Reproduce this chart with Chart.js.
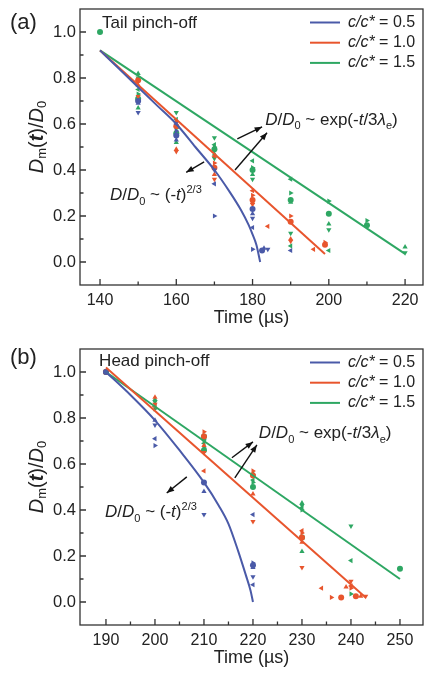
<!DOCTYPE html>
<html>
<head>
    <title>Pinch-off diameter vs time</title>
    <script src="https://cdn.jsdelivr.net/npm/chart.js"></script>
    <style>
        body {
            margin: 0;
            background: #ffffff;
        }
        canvas {
            display: block;
        }
    </style>
</head>
<body>
<canvas id="chartA" width="424" height="330"></canvas>
<canvas id="chartB" width="424" height="343"></canvas>

<script>
    // ---- data ----
    const yTicks = [0, 0.2, 0.4, 0.6, 0.8, 1.0];
    const yMinor = [0.1, 0.3, 0.5, 0.7, 0.9];

    // panel (a) tail pinch-off
    const aTicksX = [140, 160, 180, 200, 220];
    const aMinorX = [150, 170, 190, 210];

    const aFit05T = [140, 145, 150, 155, 160, 165, 170, 174, 177, 179, 180, 181, 182];
    const aFit05D = [0.92, 0.84, 0.76, 0.68, 0.60, 0.50, 0.40, 0.305, 0.225, 0.16, 0.12, 0.075, 0.0];
    const aFit10T = [140, 199];
    const aFit10D = [0.92, 0.035];
    const aFit15T = [140, 220];
    const aFit15D = [0.92, 0.035];

    const aBlueT = [150, 150, 150, 160, 160, 160, 160, 170, 170, 170, 180, 180, 180, 180, 180, 182.5, 183, 184, 190];
    const aBlueD = [0.70, 0.69, 0.65, 0.60, 0.57, 0.55, 0.53, 0.40, 0.34, 0.20, 0.23, 0.21, 0.19, 0.15, 0.055, 0.05, 0.06, 0.055, 0.05];
    const aRedT = [150, 150, 150, 150, 160, 160, 160, 160, 170, 170, 170, 170, 170, 180, 180, 180, 180, 180, 184, 190, 190, 190, 190, 196, 199, 199];
    const aRedD = [0.79, 0.77, 0.72, 0.70, 0.61, 0.59, 0.49, 0.48, 0.46, 0.43, 0.41, 0.38, 0.36, 0.31, 0.29, 0.27, 0.26, 0.25, 0.155, 0.20, 0.175, 0.10, 0.09, 0.055, 0.085, 0.075];
    const aGreenT = [140, 150, 150, 150, 150, 150, 150, 160, 160, 160, 160, 160, 170, 170, 170, 170, 170, 170, 180, 180, 180, 180, 180, 190, 190, 190, 190, 190, 190, 200, 200, 200, 200, 200, 210, 210, 220, 220];
    const aGreenD = [1.0, 0.82, 0.80, 0.75, 0.73, 0.71, 0.67, 0.65, 0.62, 0.58, 0.56, 0.52, 0.54, 0.51, 0.50, 0.49, 0.47, 0.45, 0.44, 0.41, 0.40, 0.38, 0.36, 0.36, 0.30, 0.27, 0.26, 0.125, 0.07, 0.265, 0.21, 0.165, 0.14, 0.05, 0.18, 0.16, 0.065, 0.04];

    // panel (b) head pinch-off
    const bTicksX = [190, 200, 210, 220, 230, 240, 250];
    const bMinorX = [195, 205, 215, 225, 235, 245];

    const bFit05T = [190, 195, 200, 205, 210, 213, 215, 217, 218.5, 219.5, 220];
    const bFit05D = [1.0, 0.90, 0.79, 0.66, 0.52, 0.42, 0.34, 0.22, 0.12, 0.05, 0.0];
    const bFit10T = [190, 243];
    const bFit10D = [1.02, 0.02];
    const bFit15T = [190, 250];
    const bFit15D = [1.0, 0.10];

    const bBlueT = [190, 200, 200, 200, 200, 210, 210, 210, 220, 220, 220, 220, 220, 220];
    const bBlueD = [1.0, 0.79, 0.77, 0.71, 0.68, 0.52, 0.48, 0.38, 0.38, 0.17, 0.16, 0.15, 0.11, 0.075];
    const bRedT = [190, 200, 200, 200, 210, 210, 210, 210, 210, 220, 220, 220, 220, 230, 230, 230, 230, 230, 234, 236, 238, 239, 240, 240, 240, 241, 242, 243];
    const bRedD = [1.0, 0.89, 0.86, 0.85, 0.74, 0.72, 0.68, 0.65, 0.57, 0.57, 0.55, 0.47, 0.35, 0.31, 0.30, 0.28, 0.26, 0.15, 0.06, 0.02, 0.02, 0.065, 0.09, 0.07, 0.06, 0.025, 0.025, 0.025];
    const bGreenT = [190, 200, 200, 200, 200, 210, 210, 210, 210, 210, 210, 220, 220, 220, 220, 220, 230, 230, 230, 230, 230, 230, 240, 240, 240, 250];
    const bGreenD = [1.0, 0.88, 0.87, 0.85, 0.84, 0.72, 0.71, 0.70, 0.69, 0.67, 0.66, 0.56, 0.55, 0.53, 0.52, 0.50, 0.43, 0.42, 0.41, 0.40, 0.28, 0.22, 0.33, 0.18, 0.035, 0.145];

    const seriesNames = ['0.5', '1.0', '1.5'];

    // ---- styling ----
    const FONT = '"Liberation Sans", Arial, Helvetica, sans-serif';
    const INK = '#222222';
    const BLUE = '#4a5aa8';
    const RED = '#e8552d';
    const GREEN = '#2ea763';
    const COLORS = [BLUE, RED, GREEN];

    // marker shapes cycle like the mixed symbols of the original
    const shapes = ['circle', 'triangle', 'triangle', 'triangle', 'triangle'];
    const turns = [0, 0, 180, 270, 90];

    function pts(ts, ds) {
        return ts.map((t, i) => ({x: t, y: ds[i]}));
    }

    function scatterSet(ts, ds, color) {
        return {
            type: 'scatter',
            data: pts(ts, ds),
            backgroundColor: color,
            borderColor: color,
            borderWidth: 0,
            pointRadius: 3,
            pointStyle: c => shapes[c.dataIndex % 5],
            rotation: c => turns[c.dataIndex % 5]
        };
    }

    function fitSet(ts, ds, color, curved) {
        return {
            type: 'line',
            data: pts(ts, ds),
            borderColor: color,
            borderWidth: 2,
            pointRadius: 0,
            fill: false,
            tension: curved ? 0.4 : 0,
            cubicInterpolationMode: curved ? 'monotone' : 'default'
        };
    }

    // text with italics / sub / superscripts: I italic, B bold, _ sub, ^ sup
    function fontFor(st, size) {
        const small = st.includes('_') || st.includes('^');
        const fs = small ? size * 0.65 : size;
        return (st.includes('I') ? 'italic ' : '') + (st.includes('B') ? 'bold ' : '') + fs + 'px ' + FONT;
    }

    function richWidth(ctx, parts, size) {
        let w = 0;
        parts.forEach(([t, st = '']) => {
            ctx.font = fontFor(st, size);
            w += ctx.measureText(t).width;
        });
        return w;
    }

    function rich(ctx, x, y, parts, size) {
        let cx = x;
        parts.forEach(([t, st = '']) => {
            ctx.font = fontFor(st, size);
            const dy = st.includes('_') ? size * 0.28 : st.includes('^') ? -size * 0.42 : 0;
            ctx.fillText(t, cx, y + dy);
            cx += ctx.measureText(t).width;
        });
    }

    function arrow(ctx, x1, y1, x2, y2) {
        ctx.beginPath();
        ctx.moveTo(x1, y1);
        ctx.lineTo(x2, y2);
        ctx.stroke();
        const a = Math.atan2(y2 - y1, x2 - x1), h = 8;
        ctx.beginPath();
        ctx.moveTo(x2, y2);
        ctx.lineTo(x2 - h * Math.cos(a - 0.38), y2 - h * Math.sin(a - 0.38));
        ctx.lineTo(x2 - h * Math.cos(a + 0.38), y2 - h * Math.sin(a + 0.38));
        ctx.closePath();
        ctx.fill();
    }

    const expText = [['D', 'I'], ['/'], ['D', 'I'], ['0', '_'], [' ~ exp(-'], ['t', 'I'], ['/3'], ['λ', 'I'], ['e', '_'], [')']];
    const powText = [['D', 'I'], ['/'], ['D', 'I'], ['0', '_'], [' ~ (-'], ['t', 'I'], [')'], ['2/3', '^']];
    const yTitle = [['D', 'I'], ['m', '_'], ['('], ['t', 'IB'], [')/'], ['D', 'I'], ['0', '_']];

    // draws frame, inward ticks, legend and the annotations
    const decor = {
        id: 'decor',
        afterDraw(chart, args, opt) {
            const ctx = chart.ctx;
            const area = chart.chartArea;
            const xs = chart.scales.x, ys = chart.scales.y;
            const X = v => xs.getPixelForValue(v);
            const Y = v => ys.getPixelForValue(v);

            ctx.save();
            ctx.strokeStyle = '#333';
            ctx.fillStyle = INK;
            ctx.lineWidth = 1.3;
            ctx.strokeRect(area.left, area.top, area.right - area.left, area.bottom - area.top);

            // ticks pointing into the plot
            ctx.beginPath();
            opt.majorX.forEach(v => { ctx.moveTo(X(v), area.bottom); ctx.lineTo(X(v), area.bottom - 6); });
            opt.minorX.forEach(v => { ctx.moveTo(X(v), area.bottom); ctx.lineTo(X(v), area.bottom - 3.5); });
            yTicks.forEach(v => { ctx.moveTo(area.left, Y(v)); ctx.lineTo(area.left + 6, Y(v)); });
            yMinor.forEach(v => { ctx.moveTo(area.left, Y(v)); ctx.lineTo(area.left + 3.5, Y(v)); });
            ctx.stroke();

            // legend
            ctx.textBaseline = 'middle';
            ctx.textAlign = 'left';
            COLORS.forEach((c, i) => {
                const ly = area.top + 13.5 + i * 20.2;
                ctx.strokeStyle = c;
                ctx.lineWidth = 2;
                ctx.beginPath();
                ctx.moveTo(area.right - 113, ly);
                ctx.lineTo(area.right - 83, ly);
                ctx.stroke();
                ctx.fillStyle = INK;
                rich(ctx, area.right - 75, ly, [['c/c*', 'I'], [' = ' + seriesNames[i]]], 16);
            });

            // panel tag and heading
            ctx.font = '22px ' + FONT;
            ctx.fillText(opt.tag, 10, opt.tagY);
            ctx.textBaseline = 'alphabetic';
            ctx.font = '17px ' + FONT;
            ctx.fillText(opt.head, X(opt.headAt[0]), Y(opt.headAt[1]));

            // fit-law labels and arrows
            rich(ctx, X(opt.expAt[0]), Y(opt.expAt[1]), expText, 17);
            rich(ctx, X(opt.powAt[0]), Y(opt.powAt[1]), powText, 17);
            ctx.strokeStyle = '#111';
            ctx.fillStyle = '#111';
            ctx.lineWidth = 1.4;
            opt.arrows.forEach(a => arrow(ctx, X(a[0]), Y(a[1]), X(a[2]), Y(a[3])));

            // y axis title
            ctx.fillStyle = INK;
            ctx.textBaseline = 'middle';
            const w = richWidth(ctx, yTitle, 20);
            ctx.translate(37, (area.top + area.bottom) / 2 - 10);
            ctx.rotate(-Math.PI / 2);
            rich(ctx, -w / 2, 0, yTitle, 20);
            ctx.restore();
        }
    };

    function makeChart(id, sets, xMin, xMax, xTicks, xHeight, topPad, titlePad, notes) {
        return new Chart(document.getElementById(id), {
            data: {datasets: sets},
            options: {
                responsive: false,
                animation: false,
                layout: {autoPadding: false, padding: {top: topPad, right: 1, left: 0, bottom: 0}},
                plugins: {
                    legend: {display: false},
                    tooltip: {enabled: false},
                    decor: notes
                },
                scales: {
                    x: {
                        type: 'linear',
                        min: xMin,
                        max: xMax,
                        afterBuildTicks: s => { s.ticks = xTicks.map(v => ({value: v})); },
                        afterFit: s => {
                            s.height = xHeight;
                            s.paddingLeft = 0;
                            s.paddingRight = 0;
                        },
                        grid: {display: false, drawTicks: false},
                        border: {display: false},
                        ticks: {color: INK, padding: 6, font: {family: FONT, size: 16}},
                        title: {
                            display: true,
                            text: 'Time (µs)',
                            color: INK,
                            font: {family: FONT, size: 18},
                            padding: {top: 0, bottom: titlePad}
                        }
                    },
                    y: {
                        min: -0.1,
                        max: 1.1,
                        afterBuildTicks: s => { s.ticks = yTicks.map(v => ({value: v})); },
                        afterFit: s => {
                            s.width = 80;
                            s.paddingTop = 0;
                            s.paddingBottom = 0;
                        },
                        grid: {display: false, drawTicks: false},
                        border: {display: false},
                        ticks: {
                            color: INK,
                            padding: 4,
                            font: {family: FONT, size: 16.5},
                            callback: v => v.toFixed(1)
                        }
                    }
                }
            },
            plugins: [decor]
        });
    }

    makeChart('chartA', [
        fitSet(aFit05T, aFit05D, BLUE, true),
        fitSet(aFit10T, aFit10D, RED, false),
        fitSet(aFit15T, aFit15D, GREEN, false),
        scatterSet(aBlueT, aBlueD, BLUE),
        scatterSet(aRedT, aRedD, RED),
        scatterSet(aGreenT, aGreenD, GREEN)
    ], 134.75, 224.7, aTicksX, 45, 9, 1, {
        tag: '(a)', tagY: 23,
        head: 'Tail pinch-off', headAt: [140.5, 1.016],
        expAt: [183.3, 0.597], powAt: [142.6, 0.27],
        arrows: [[176.0, 0.535, 182.5, 0.588], [175.4, 0.40, 183.8, 0.562], [167.3, 0.435, 162.6, 0.39]],
        majorX: aTicksX, minorX: aMinorX
    });

    makeChart('chartB', [
        fitSet(bFit05T, bFit05D, BLUE, true),
        fitSet(bFit10T, bFit10D, RED, false),
        fitSet(bFit15T, bFit15D, GREEN, false),
        scatterSet(bBlueT, bBlueD, BLUE),
        scatterSet(bRedT, bRedD, RED),
        scatterSet(bGreenT, bGreenD, GREEN)
    ], 184.7, 254.7, bTicksX, 48, 19, 4, {
        tag: '(b)', tagY: 28,
        head: 'Head pinch-off', headAt: [188.6, 1.024],
        expAt: [221.2, 0.714], powAt: [189.8, 0.37],
        arrows: [[215.7, 0.627, 220.0, 0.696], [216.3, 0.54, 220.8, 0.683], [206.5, 0.544, 202.4, 0.474]],
        majorX: bTicksX, minorX: bMinorX
    });
</script>
</body>
</html>
